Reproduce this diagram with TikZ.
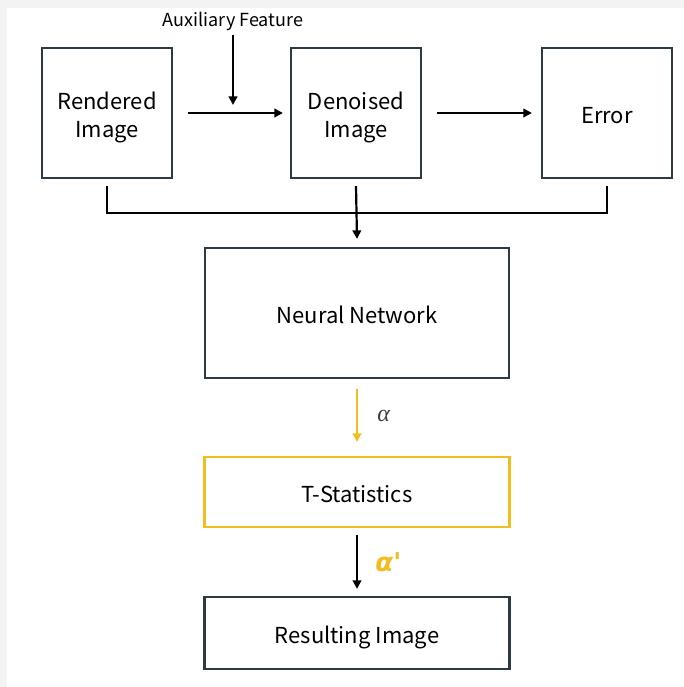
\documentclass[tikz,border=0pt]{standalone}
\usepackage{fontspec}
\setmainfont{Noto Sans CJK KR}
\newfontfamily\grkserif{Liberation Serif}
\newfontfamily\grksans{DejaVu Sans}
\usetikzlibrary{arrows.meta}
\definecolor{boxline}{HTML}{2B3A45}
\definecolor{ylw}{HTML}{F2BD1D}
\definecolor{bgrey}{HTML}{F3F3F3}
\newcommand\lowertext[1]{\raisebox{-5pt}[\height][\depth]{\begin{tabular}{@{}c@{}}#1\end{tabular}}}
\begin{document}
\begin{tikzpicture}[x=1pt,y=-1pt,
  lbl/.style={font=\fontsize{22}{28}\selectfont},
  box/.style={draw=boxline,line width=2.2pt,fill=white,inner sep=0pt,lbl},
  ybox/.style={draw=ylw,line width=2.2pt,fill=white,inner sep=0pt,lbl},
  conn/.style={line width=2.2pt,black},
  arr/.style={conn,-{Triangle[length=8.5pt,width=8.5pt]}}]
\fill[bgrey] (0,0) rectangle (684,687);
\fill[white] (7,8) rectangle (684,687);
\useasboundingbox (0,0) rectangle (684,687);
\node[box,minimum width=130pt,minimum height=130pt] (ren) at (107,113) {\lowertext{Rendered\\Image}};
\node[box,minimum width=130pt,minimum height=130pt] (den) at (356,113) {\lowertext{Denoised\\Image}};
\node[box,minimum width=130pt,minimum height=130pt] (err) at (607,113) {\lowertext{Error}};
\node[box,minimum width=304pt,minimum height=130pt] (nn) at (357,313) {\lowertext{Neural Network}};
\node[ybox,minimum width=305pt,minimum height=70pt] (ts) at (357,492) {\lowertext{T-Statistics}};
\node[box,minimum width=305pt,minimum height=72pt] (res) at (357,633) {\lowertext{Resulting Image}};
\node[font=\fontsize{18}{21}\selectfont] (aux) at (233,21) {Auxiliary Feature};
\coordinate (auxe) at (233,105);
\draw[arr] (233,35) -- (auxe);
\draw[arr] ([xshift=15pt]ren.east) -- ([xshift=-7pt]den.west);
\draw[arr] ([xshift=15pt]den.east) -- ([xshift=-9pt]err.west);
\coordinate (jl) at (107,213);
\coordinate (jr) at (607,213);
\draw[conn] ([yshift=-7pt]ren.south) -- (jl) -- (jr) -- ([yshift=-7pt]err.south);
\draw[arr] ([yshift=-7pt]den.south) -- ([yshift=8pt]nn.north);
\draw[conn,ylw,-{Triangle[length=8.5pt,width=8.5pt]}] ([yshift=-10pt]nn.south) -- node[right=16pt,text=black!75,font=\fontsize{24}{28}\selectfont\grkserif\itshape]{α} ([yshift=14pt]ts.north);
\draw[arr] ([yshift=-7pt]ts.south) -- node[right=14pt,text=ylw,font=\fontsize{26}{30}\selectfont\grksans\bfseries\itshape]{α'} ([yshift=7pt]res.north);
\end{tikzpicture}
\end{document}
